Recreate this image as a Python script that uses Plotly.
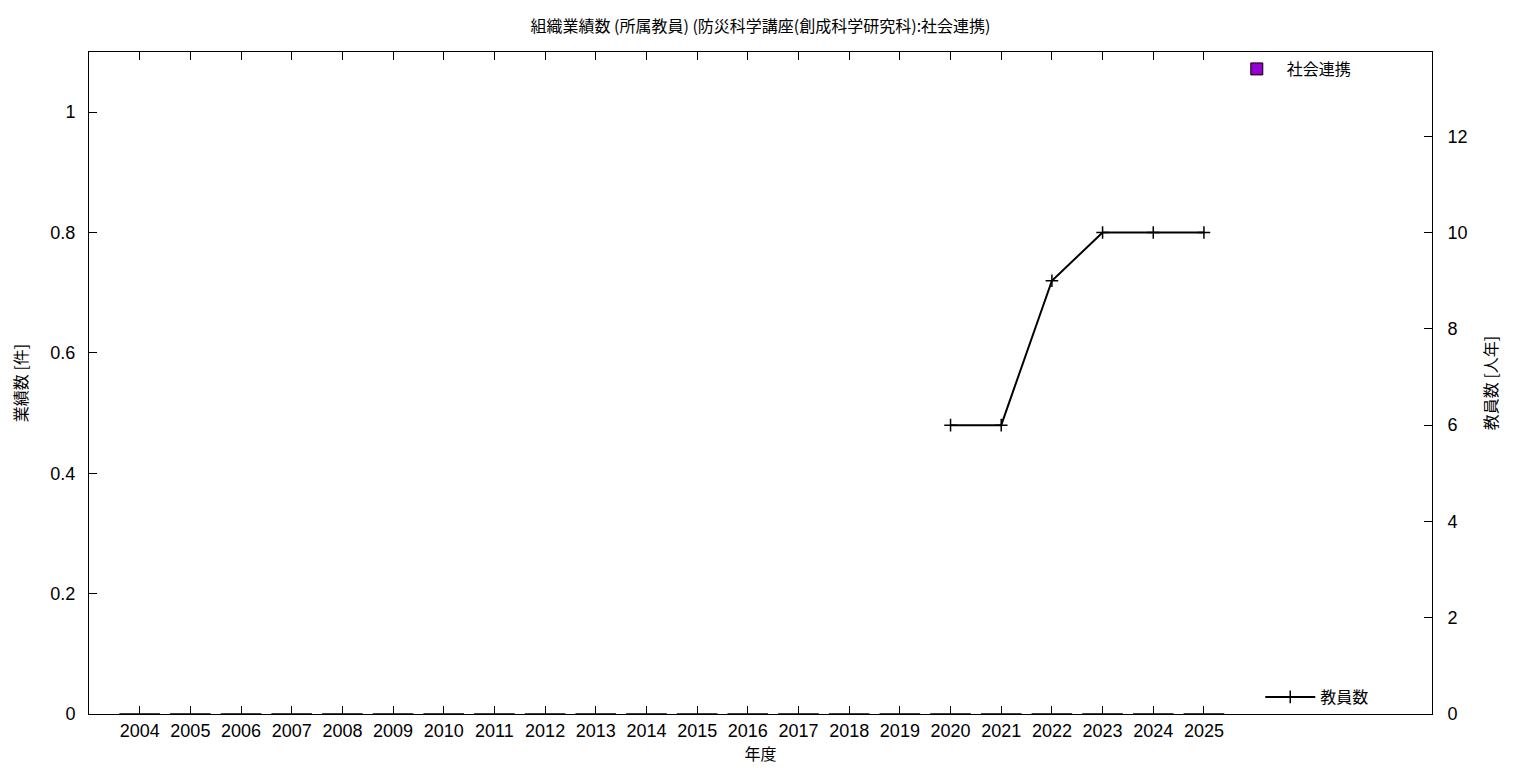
import plotly.graph_objects as go

years = [str(y) for y in range(2004, 2026)]
works = [0] * len(years)  # 社会連携 業績数
staff_years = ["2020", "2021", "2022", "2023", "2024", "2025"]
staff = [6, 6, 9, 10, 10, 10]  # 教員数 [人年]

xpos = {y: i for i, y in enumerate(years)}

FONT = "Liberation Sans, Noto Sans CJK JP, sans-serif"
CJK = "Noto Sans CJK JP, Liberation Sans, sans-serif"

fig = go.Figure()
fig.add_trace(go.Bar(
    x=[xpos[y] for y in years], y=works, name="社会連携",
    marker=dict(color="#9400D3", line=dict(color="black", width=1)),
    width=0.8, legend="legend", yaxis="y",
))
fig.add_trace(go.Scatter(
    x=[xpos[y] for y in staff_years], y=staff, name="教員数",
    mode="lines+markers", yaxis="y2",
    line=dict(color="black", width=2),
    marker=dict(symbol="cross-thin", size=9, line=dict(color="black", width=1.5)),
    legend="legend2",
))

fig.update_layout(
    width=1536, height=768,
    paper_bgcolor="white", plot_bgcolor="white",
    margin=dict(l=81, r=112, t=44, b=62, autoexpand=False),
    title=dict(text="組織業績数 (所属教員) (防災科学講座(創成科学研究科):社会連携)",
               xref="paper", x=0.5, xanchor="center", y=0.9766, yanchor="middle",
               font=dict(family=CJK, size=16, color="black")),
    font=dict(family=FONT, color="black"),
    xaxis=dict(
        range=[-1, 25.5], tickmode="array",
        tickvals=list(range(len(years))), ticktext=years,
        ticks="inside", ticklen=8, tickcolor="black",
        showline=True, linecolor="black", linewidth=1, mirror="ticks",
        showgrid=False, zeroline=False, automargin=False,
        tickfont=dict(size=18, family=FONT),
        title=dict(text="年度", font=dict(family=CJK, size=16), standoff=9),
    ),
    yaxis=dict(
        range=[0, 1.1], tickvals=[0, 0.2, 0.4, 0.6, 0.8, 1],
        ticktext=["0", "0.2", "0.4", "0.6", "0.8", "1"],
        ticks="inside", ticklen=8, tickcolor="black",
        showline=True, linecolor="black", linewidth=1,
        showgrid=False, zeroline=False, automargin=False,
        ticklabelstandoff=9,
        tickfont=dict(size=18, family=FONT),
        title=dict(text="業績数 [件]", font=dict(family=CJK, size=16), standoff=24),
    ),
    yaxis2=dict(
        range=[0, 13.75], tickvals=[0, 2, 4, 6, 8, 10, 12],
        overlaying="y", side="right",
        ticks="inside", ticklen=8, tickcolor="black",
        showline=True, linecolor="black", linewidth=1,
        showgrid=False, zeroline=False, automargin=False,
        ticklabelstandoff=11,
        tickfont=dict(size=18, family=FONT),
        title=dict(text="教員数 [人年]", font=dict(family=CJK, size=16), standoff=19),
    ),
    legend=dict(x=0.944, y=1.0, xanchor="right", yanchor="top",
                bgcolor="rgba(0,0,0,0)", font=dict(family=CJK, size=16),
                itemwidth=50),
    legend2=dict(x=0.957, y=0.0, xanchor="right", yanchor="bottom",
                 bgcolor="rgba(0,0,0,0)", font=dict(family=CJK, size=16),
                 itemwidth=50),
    showlegend=True,
    bargap=0.2,
)

fig.write_html("out.html")
